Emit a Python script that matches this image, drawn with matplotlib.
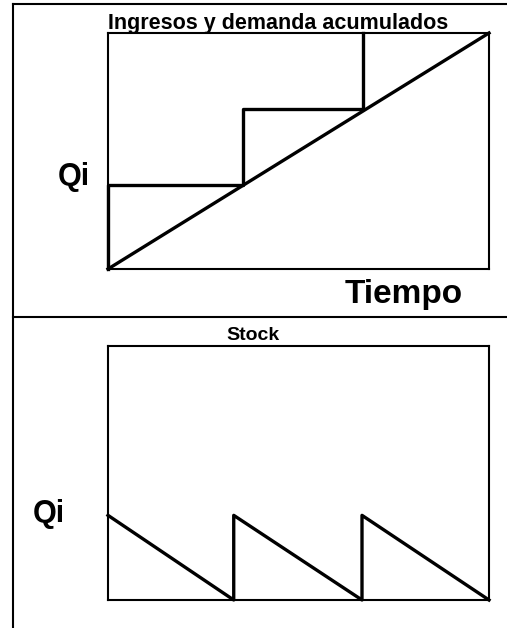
import matplotlib
matplotlib.use("Agg")
import matplotlib.pyplot as plt
from matplotlib.lines import Line2D

plt.rcParams["font.family"] = ["Liberation Sans", "DejaVu Sans"]
plt.rcParams["font.weight"] = "bold"

# cumulative demand (straight line) and cumulative receipts (staircase)
demand_t = [0, 3]
demand_q = [0, 3]
receipts_t = [0, 0, 1.06, 1.06, 2.01, 2.01]
receipts_q = [0, 1.07, 1.07, 2.03, 2.03, 3]

# stock level (sawtooth)
stock_t = [0, 0.99, 0.99, 2.0, 2.0, 3.0]
stock_q = [1.0, 0, 1.0, 0, 1.0, 0]

fig = plt.figure(figsize=(5.07, 6.28), dpi=100)

# outer frame: top line, left line and the divider between panels
for xs, ys in [([13, 507], [4, 4]), ([13, 13], [4, 628]), ([13, 507], [317, 317])]:
    fig.add_artist(Line2D([x / 507 for x in xs], [1 - y / 628 for y in ys],
                          transform=fig.transFigure, color="black", lw=1.5))

ax1 = fig.add_axes([108 / 507, 1 - 269 / 628, 381 / 507, 236 / 628])
ax1.plot(demand_t, demand_q, color="black", lw=2.4, clip_on=False)
ax1.plot(receipts_t, receipts_q, color="black", lw=2.4, clip_on=False)

ax2 = fig.add_axes([108 / 507, 1 - 600 / 628, 381 / 507, 254 / 628])
ax2.plot(stock_t, stock_q, color="black", lw=2.4, clip_on=False)

for ax in (ax1, ax2):
    ax.set_xlim(0, 3)
    ax.set_ylim(0, 3)
    ax.set_xticks([])
    ax.set_yticks([])
    for s in ax.spines.values():
        s.set_linewidth(1.5)

fig.text(278 / 507, 1 - 28.5 / 628, "Ingresos y demanda acumulados", ha="center",
         va="baseline", fontsize=15.5, fontweight="bold")
fig.text(74 / 507, 1 - 185 / 628, "Qi", ha="center", va="baseline",
         fontsize=22, fontweight="bold")
fig.text(404 / 507, 1 - 303 / 628, "Tiempo", ha="center", va="baseline",
         fontsize=24, fontweight="bold")
fig.text(253 / 507, 1 - 340 / 628, "Stock", ha="center", va="baseline",
         fontsize=14, fontweight="bold")
fig.text(49 / 507, 1 - 522 / 628, "Qi", ha="center", va="baseline",
         fontsize=22, fontweight="bold")

fig.savefig("out.png", dpi=100)
